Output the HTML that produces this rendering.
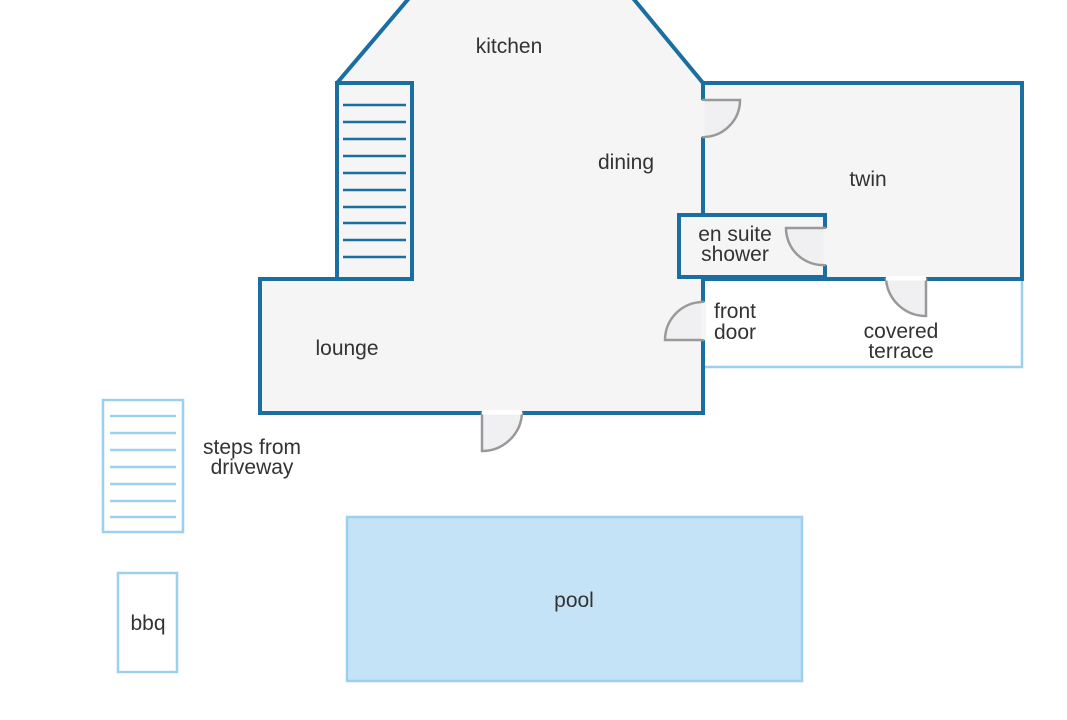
<!DOCTYPE html>
<html><head><style>html,body{margin:0;padding:0;background:#fff}svg{display:block}text{font-family:"Liberation Sans",sans-serif;font-size:21px;fill:#333;text-anchor:middle}</style></head>
<body>
<svg width="1067" height="720" viewBox="0 0 1067 720">
<g stroke="#9dcfee" stroke-width="2.5" fill="none">
<polyline points="703,367 1022,367 1022,279"/>
<rect x="103" y="400" width="80" height="132" fill="#fff"/>
<path d="M110 416H176M110 433H176M110 450H176M110 467H176M110 484H176M110 501H176M110 517H176"/>
<rect x="118" y="573" width="59" height="99" fill="#fff"/>
<rect x="347" y="517" width="455" height="164" fill="#c5e3f7"/>
</g>
<g stroke="#1a6fa0" stroke-width="4" fill="#f5f5f5" stroke-linejoin="miter">
<polygon points="260,279 337,279 337,83 410,-3 632,-3 703,83 703,413 260,413"/>
<rect x="703" y="83" width="319" height="196"/>
<rect x="337" y="83" width="75" height="196"/>
<rect x="679" y="215" width="146" height="62"/>
</g>
<path d="M343 105H406M343 122H406M343 139H406M343 156H406M343 173H406M343 190H406M343 207H406M343 223H406M343 240H406M343 257H406" stroke="#1a6fa0" stroke-width="2.5"/>
<g fill="#fff" stroke="none">
<rect x="700" y="100" width="6" height="37" fill="#f5f5f5"/>
<rect x="700" y="302" width="6" height="38" fill="#f5f5f5"/>
<rect x="482" y="410" width="40" height="6"/>
<rect x="822" y="228" width="6" height="37" fill="#f5f5f5"/>
<rect x="886" y="276" width="40" height="6"/>
</g>
<g stroke="#999" stroke-width="2.5" fill="#f0f0f2">
<path d="M703 100H740A37 37 0 0 1 703 137Z"/>
<path d="M703 340H665A38 38 0 0 1 703 302Z"/>
<path d="M482 413V451A40 40 0 0 0 522 413Z"/>
<path d="M825 228H786A37 37 0 0 0 825 265Z"/>
<path d="M926 279V316A40 40 0 0 1 886 279Z"/>
</g>
<g stroke="#fff" stroke-width="3">
<path d="M482 413H522M886 279H926"/>
</g>
<g stroke="#f5f5f5" stroke-width="3"><path d="M703 101V136M703 303V339M825 229V264"/></g>
<text x="509" y="53">kitchen</text>
<text x="626" y="169">dining</text>
<text x="868" y="186">twin</text>
<text x="735" y="241">en suite</text>
<text x="735" y="261">shower</text>
<text x="735" y="318">front</text>
<text x="735" y="339">door</text>
<text x="901" y="338">covered</text>
<text x="901" y="358">terrace</text>
<text x="347" y="355">lounge</text>
<text x="252" y="454">steps from</text>
<text x="252" y="474">driveway</text>
<text x="148" y="630">bbq</text>
<text x="574" y="607">pool</text>
</svg>
</body></html>
